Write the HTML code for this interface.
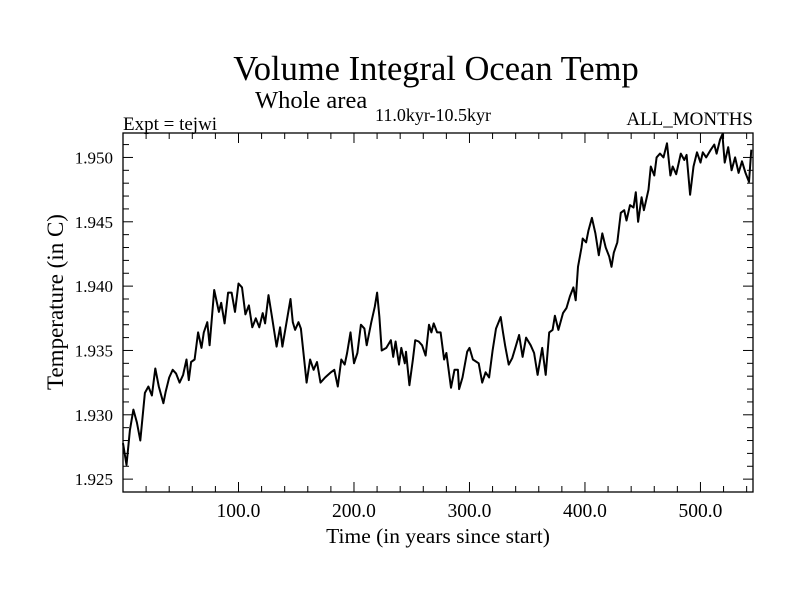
<!DOCTYPE html>
<html><head><meta charset="utf-8"><style>
body{margin:0;background:#fff;}
svg text{font-family:"Liberation Serif",serif;fill:#000;}
</style></head><body>
<svg id="chart" width="800" height="600" xmlns="http://www.w3.org/2000/svg">
<rect width="800" height="600" fill="#fff"/>
<text x="436" y="80" font-size="34.5" text-anchor="middle">Volume Integral Ocean Temp</text>
<text x="255" y="108" font-size="24.5">Whole area</text>
<text x="375" y="121" font-size="18">11.0kyr-10.5kyr</text>
<text x="123" y="130" font-size="19">Expt = tejwi</text>
<text x="753" y="125" font-size="19" text-anchor="end">ALL_MONTHS</text>
<text x="438" y="543" font-size="21.5" text-anchor="middle">Time (in years since start)</text>
<text x="0" y="0" font-size="23" text-anchor="middle" transform="translate(63,302) rotate(-90)">Temperature (in C)</text>
<g id="axes"></g>
<path id="line" fill="none" stroke="#000" stroke-width="2" stroke-linejoin="round"/>
</svg>
<script>
const years=[0,3,6,9,12,15,19,22,25,28,31,35,37,40,43,46,49,52,55,57,59,62,65,68,70,73,75,79,83,85,88,91,94,97,100,103,106,109,112,115,118,121,123,126,129,133,136,138,142,145,147,149,152,154,159,162,165,168,171,175,180,183,186,189,192,194,197,200,203,206,209,211,215,218,220,222,224,228,232,234,236,239,241,244,245,248,251,253,256,259,262,265,267,269,272,275,278,280,284,287,290,291,294,298,300,303,308,311,314,317,320,323,327,329,331,334,337,340,343,346,349,353,356,359,363,366,369,372,374,377,381,384,387,390,392,394,397,398,401,403,406,409,412,415,418,421,423,425,428,431,434,436,439,442,444,446,449,451,455,457,460,462,465,468,471,474,476,479,483,486,488,491,494,497,500,502,505,509,512,514,517,519,521,524,527,530,533,536,539,542,544];
const temps=[1.9278,1.9261,1.9288,1.9304,1.9294,1.9280,1.9317,1.9322,1.9315,1.9336,1.9322,1.9309,1.9318,1.9329,1.9335,1.9332,1.9325,1.9331,1.9343,1.9327,1.9341,1.9343,1.9364,1.9352,1.9364,1.9372,1.9354,1.9397,1.9380,1.9387,1.9371,1.9395,1.9395,1.9380,1.9402,1.9399,1.9378,1.9385,1.9368,1.9375,1.9368,1.9379,1.9371,1.9393,1.9376,1.9353,1.9368,1.9353,1.9374,1.9390,1.9372,1.9366,1.9372,1.9367,1.9325,1.9343,1.9335,1.9341,1.9325,1.9329,1.9333,1.9335,1.9322,1.9343,1.9339,1.9348,1.9364,1.9340,1.9348,1.9370,1.9367,1.9354,1.9372,1.9384,1.9395,1.9376,1.9350,1.9352,1.9358,1.9345,1.9357,1.9339,1.9352,1.9340,1.9349,1.9323,1.9343,1.9358,1.9357,1.9354,1.9346,1.9370,1.9364,1.9371,1.9364,1.9364,1.9343,1.9348,1.9321,1.9335,1.9335,1.9320,1.9329,1.9349,1.9352,1.9343,1.9340,1.9325,1.9333,1.9329,1.9350,1.9367,1.9376,1.9364,1.9353,1.9339,1.9344,1.9353,1.9362,1.9345,1.9360,1.9354,1.9348,1.9331,1.9352,1.9331,1.9364,1.9366,1.9377,1.9366,1.9379,1.9383,1.9392,1.9399,1.9389,1.9415,1.9430,1.9437,1.9434,1.9443,1.9453,1.9441,1.9424,1.9441,1.9430,1.9423,1.9415,1.9426,1.9434,1.9457,1.9459,1.9451,1.9463,1.9461,1.9473,1.9450,1.9469,1.9459,1.9475,1.9493,1.9486,1.9500,1.9503,1.9500,1.9511,1.9486,1.9493,1.9487,1.9503,1.9498,1.9502,1.9471,1.9493,1.9504,1.9496,1.9504,1.9500,1.9506,1.9510,1.9503,1.9514,1.9518,1.9496,1.9508,1.9490,1.9500,1.9488,1.9497,1.9488,1.9481,1.9506];
const xTicks=[100,200,300,400,500];
const xTickLabels=["100.0","200.0","300.0","400.0","500.0"];
const yTicks=[1.925,1.930,1.935,1.940,1.945,1.950];
const yTickLabels=["1.925","1.930","1.935","1.940","1.945","1.950"];

const L=123,R=753,T=133,B=492;
const xMin=0,xMax=545.5,yMin=1.9240,yMax=1.95190;
function sx(v){return L+(v-xMin)/(xMax-xMin)*(R-L);}
function sy(v){return B-(v-yMin)/(yMax-yMin)*(B-T);}
const NS="http://www.w3.org/2000/svg";
const g=document.getElementById('axes');
function mk(tag,attrs){const e=document.createElementNS(NS,tag);for(const k in attrs)e.setAttribute(k,attrs[k]);g.appendChild(e);return e;}
const frame=mk('rect',{x:L,y:T,width:R-L,height:B-T,fill:'none',stroke:'#000','stroke-width':1.3});


for(let v=20;v<xMax;v+=20){
  const major=v%100===0;const len=major?10:6;const x=sx(v);
  const t1=mk('line',{x1:x,x2:x,y1:B,y2:B-len,stroke:'#000','stroke-width':1});
  
  
  const t2=mk('line',{x1:x,x2:x,y1:T,y2:T+len,stroke:'#000','stroke-width':1});
  
  
}
xTicks.forEach((v,i)=>{
  const t=mk('text',{x:sx(v),y:517,'font-size':19.5,'text-anchor':'middle'});
  t.textContent=xTickLabels[i];
  
  
});
for(let k=0;k<=27;k++){
  const v=1.925+k*0.001; if(v>yMax)break;
  const major=k%5===0;const len=major?10:6;const y=sy(v);
  const t1=mk('line',{x1:L,x2:L+len,y1:y,y2:y,stroke:'#000','stroke-width':1});
  
  
  const t2=mk('line',{x1:R,x2:R-len,y1:y,y2:y,stroke:'#000','stroke-width':1});
  
  
}
yTicks.forEach((v,i)=>{
  const t=mk('text',{x:113,y:sy(v)+6,'font-size':17,'text-anchor':'end'});
  t.textContent=yTickLabels[i];
  
  
});
let d='';
years.forEach((yr,i)=>{d+=(i?'L':'M')+sx(yr).toFixed(1)+','+sy(temps[i]).toFixed(1);});
document.getElementById('line').setAttribute('d',d);
</script>
</body></html>
